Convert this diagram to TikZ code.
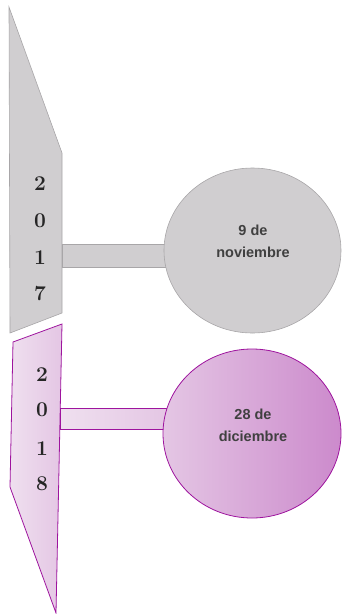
\documentclass[tikz,border=0pt]{standalone}
\usepackage{fontspec}
\newfontfamily\labelfont{Liberation Sans}
\usetikzlibrary{shapes.geometric}
\definecolor{grayfill}{RGB}{208,206,208}
\definecolor{graydraw}{RGB}{168,166,168}
\definecolor{purpdraw}{RGB}{158,20,158}
\definecolor{purpA}{RGB}{239,224,239}
\definecolor{purpB}{RGB}{228,198,228}
\definecolor{circA}{RGB}{228,198,228}
\definecolor{circB}{RGB}{204,138,204}
\definecolor{txt}{RGB}{64,64,64}
\tikzset{
  grayshape/.style={fill=grayfill, draw=graydraw, line width=0.6pt},
  purpshape/.style={left color=purpA, right color=purpB, draw=purpdraw, line width=0.8pt},
  purpcircle/.style={ellipse, left color=circA, right color=circB, draw=purpdraw, line width=0.8pt, inner sep=0pt},
  graycircle/.style={ellipse, fill=grayfill, draw=graydraw, line width=0.6pt, inner sep=0pt},
  digit/.style={font=\bfseries\fontsize{21}{21}\selectfont, text=black!85, inner sep=0pt},
  datelabel/.style={font=\labelfont\bfseries\fontsize{14.5}{22}\selectfont, text=txt, align=center, inner sep=0pt}
}
\begin{document}
\begin{tikzpicture}[x=1pt,y=-1pt]
\useasboundingbox (0,0) rectangle (341,614);
% 2017
\path[grayshape] (9,7) -- (62,153) -- (62,313) -- (10,333) -- cycle;
\path[grayshape] (62,244) rectangle (168,267);
\node[graycircle, minimum width=177pt, minimum height=165pt] (c17) at (252.5,250.5) {};
\node[datelabel] (l17) at (253,241) {9 de\\noviembre};
\node[digit] (d1) at (40,184) {2};
\node[digit] (d2) at (40,221) {0};
\node[digit] (d3) at (40,258) {1};
\node[digit] (d4) at (40,294) {7};
% 2018
\path[purpshape] (13,342) -- (62,324) -- (56,613) -- (10,487) -- cycle;
\path[purpshape] (60.5,408) rectangle (168,429);
\node[purpcircle, minimum width=178pt, minimum height=169pt] (c18) at (252,433.5) {};
\node[datelabel] (l18) at (253,425) {28 de\\diciembre};
\node[digit] (e1) at (42,375) {2};
\node[digit] (e2) at (42,410) {0};
\node[digit] (e3) at (42,449) {1};
\node[digit] (e4) at (42,484) {8};
\end{tikzpicture}
\end{document}
